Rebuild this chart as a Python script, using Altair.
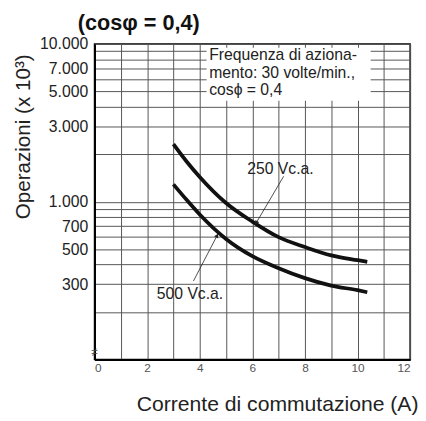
import altair as alt
import pandas as pd

FONT = "Liberation Sans"

# Curve data
current_250 = [3.0, 3.5, 4.0, 5.0, 6.0, 7.0, 8.0, 9.0, 10.0, 10.37]
ops_250 = [2317, 1799, 1435, 981, 748, 596, 516, 457, 426, 416]
current_500 = [3.0, 3.5, 4.0, 5.0, 6.0, 7.0, 8.0, 9.0, 10.0, 10.37]
ops_500 = [1288, 1028, 830, 581, 452, 379, 328, 294, 275, 267]

# Axis values
x_grid = [0, 1, 2, 3, 4, 5, 6, 7, 8, 9, 10, 11, 12]
y_grid = [100, 200, 300, 400, 500, 600, 700, 800, 900,
          1000, 2000, 3000, 4000, 5000, 6000, 7000, 8000, 9000, 10000]
y_labels = [300, 500, 700, 1000, 3000, 5000, 7000, 10000]

# Annotations
label_text = ["250 Vc.a.", "500 Vc.a."]
label_x = [7.07, 3.63]
label_y = [1603, 261]
arrow_x = [7.19, 3.76]
arrow_y = [1449, 314]
arrow_x2 = [6.15, 4.66]
arrow_y2 = [735, 610]
arrow_angle = [211, 29]

box_x = [4.26]
box_x2 = [10.5]
box_y = [9445]
box_y2 = [4365]
box_lines = ["Frequenza di aziona-", "mento: 30 volte/min.,", "cos\u03d5 = 0,4"]
box_line_x = [4.36, 4.36, 4.36]
box_line_y = [7900, 6107, 4722]

curves = pd.DataFrame({
    "x": current_250 + current_500,
    "y": ops_250 + ops_500,
    "s": ["250"] * len(current_250) + ["500"] * len(current_500),
})
labels = pd.DataFrame({"t": label_text, "x": label_x, "y": label_y})
arrows = pd.DataFrame({"x": arrow_x, "y": arrow_y, "x2": arrow_x2, "y2": arrow_y2, "a": arrow_angle})
box = pd.DataFrame({"x": box_x, "x2": box_x2, "y": box_y, "y2": box_y2})
box_txt = pd.DataFrame({"t": box_lines, "x": box_line_x, "y": box_line_y})
brk = pd.DataFrame({"x": [0], "y": [112], "t": ["\u2260"]})

label_arr = "[" + ",".join(str(v) for v in y_labels) + "]"

xscale = alt.Scale(domain=[0, 12], nice=False, zero=False)
yscale = alt.Scale(type="log", domain=[100, 10000], nice=False)

xaxis = alt.Axis(
    values=x_grid, grid=True, ticks=False,
    gridColor="#555", gridWidth=1, gridOpacity=1,
    domain=True, domainColor="black", domainWidth=2,
    labelExpr="datum.value % 2 == 0 ? datum.label : ''",
    labelFontSize=12, labelColor="#555", labelPadding=3, labelFont=FONT,
    title="Corrente di commutazione (A)", titleFontSize=21.5, titleFontWeight="normal",
    titleFont=FONT, titleColor="#222", titleX=329, titleY=52, titleAlign="right",
    titleBaseline="alphabetic",
)
yaxis = alt.Axis(
    values=y_grid, grid=True, ticks=False,
    gridColor="#555", gridWidth=1, gridOpacity=1,
    domain=True, domainColor="black", domainWidth=2,
    labelExpr="indexof(" + label_arr + ", datum.value) >= 0 ? replace(format(datum.value, ','), ',', '.') : ''",
    labelFontSize=16, labelColor="#222", labelPadding=7, labelFont=FONT,
    title="Operazioni  (x 10\u00b3)", titleFontSize=21, titleFontWeight="normal",
    titleFont=FONT, titleColor="#222", titleX=-66, titleY=94, titleAlign="center",
    titleBaseline="alphabetic", titleAngle=270,
)


def X(f):
    return alt.X(f, type="quantitative", scale=xscale, axis=xaxis)


def Y(f):
    return alt.Y(f, type="quantitative", scale=yscale, axis=yaxis)


rect = alt.Chart(box).mark_rect(color="white").encode(
    x=X("x"), x2="x2", y=Y("y"), y2="y2")

boxtext = alt.Chart(box_txt).mark_text(
    align="left", baseline="alphabetic", fontSize=16, font=FONT, color="#222"
).encode(x=X("x"), y=Y("y"), text="t")

lines = alt.Chart(curves).mark_line(
    color="#111", strokeWidth=3.8, interpolate="monotone"
).encode(x=X("x"), y=Y("y"), detail="s")

arr = alt.Chart(arrows).mark_rule(color="#222", strokeWidth=0.8).encode(
    x=X("x"), y=Y("y"), x2="x2", y2="y2")

heads = alt.Chart(arrows).mark_point(
    shape="triangle-up", filled=True, color="#222", size=22, opacity=1
).encode(x=X("x2"), y=Y("y2"), angle=alt.Angle("a:Q", scale=None))

txt = alt.Chart(labels).mark_text(
    align="center", baseline="middle", fontSize=16, font=FONT, color="#222"
).encode(x=X("x"), y=Y("y"), text="t")

brkmark = alt.Chart(brk).mark_text(
    align="center", baseline="middle", fontSize=12, font=FONT, color="#444"
).encode(x=X("x"), y=Y("y"), text="t")

chart = alt.layer(rect, boxtext, lines, arr, heads, txt, brkmark).properties(
    width=321, height=321,
    background="white",
    padding={"left": 88, "top": 33, "right": 8, "bottom": 59},
    autosize=alt.AutoSizeParams(type="none"),
    title=alt.Title("(cos\u03c6 = 0,4)", anchor="start", frame="group", dx=-17,
                    offset=1, fontSize=22, fontWeight="bold", font=FONT, color="#111"),
).configure_view(
    stroke="black", strokeWidth=1.5
)

chart.save("out.html", embed_options={"renderer": "svg", "actions": False})
